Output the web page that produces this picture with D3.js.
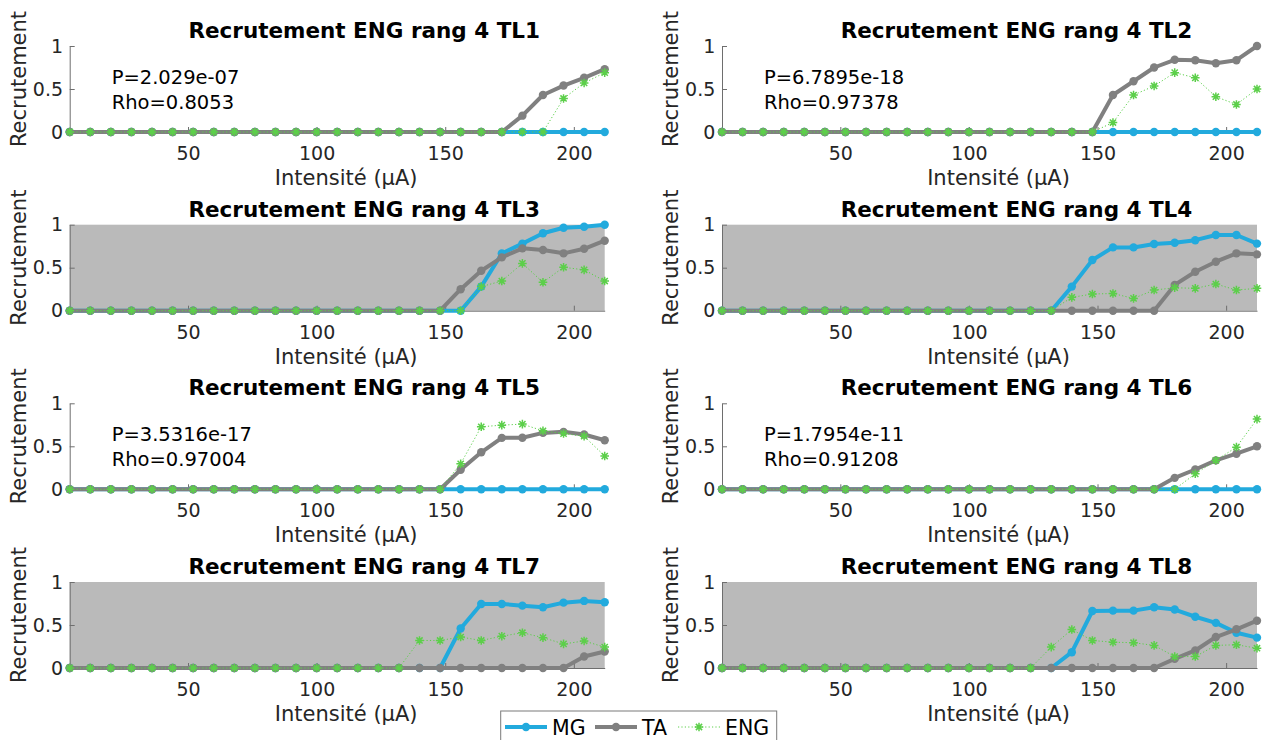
<!DOCTYPE html>
<html><head><meta charset="utf-8">
<script src="https://cdn.jsdelivr.net/npm/d3@7"></script>
<style>body{margin:0;background:#fff} svg{display:block}</style>
</head><body><svg id="c" width="1263" height="740"></svg>
<script>
// ---- data ----
const intensity = [4,12,20,28,36,44,52,60,68,76,84,92,100,108,116,124,132,140,148,156,164,172,180,188,196,204,212];
const xTicks = [50,100,150,200];
const yTicks = [0,0.5,1];
const titles = ["Recrutement ENG rang 4 TL1","Recrutement ENG rang 4 TL2","Recrutement ENG rang 4 TL3","Recrutement ENG rang 4 TL4",
                "Recrutement ENG rang 4 TL5","Recrutement ENG rang 4 TL6","Recrutement ENG rang 4 TL7","Recrutement ENG rang 4 TL8"];
const shaded = [false,false,true,true,false,false,true,true];
const pLabels = ["P=2.029e-07","P=6.7895e-18",null,null,"P=3.5316e-17","P=1.7954e-11",null,null];
const rhoLabels = ["Rho=0.8053","Rho=0.97378",null,null,"Rho=0.97004","Rho=0.91208",null,null];
const seriesNames = ["MG","TA","ENG"];

const MG_TL1 = [0,0,0,0,0,0,0,0,0,0,0,0,0,0,0,0,0,0,0,0,0,0,0,0,0,0,0];
const TA_TL1 = [0,0,0,0,0,0,0,0,0,0,0,0,0,0,0,0,0,0,0,0,0,0,0.19,0.43,0.54,0.63,0.73];
const ENG_TL1 = [0,0,0,0,0,0,0,0,0,0,0,0,0,0,0,0,0,0,0,0,0,0,0,0,0.39,0.57,0.69];

const MG_TL2 = [0,0,0,0,0,0,0,0,0,0,0,0,0,0,0,0,0,0,0,0,0,0,0,0,0,0,0];
const TA_TL2 = [0,0,0,0,0,0,0,0,0,0,0,0,0,0,0,0,0,0,0,0.43,0.59,0.75,0.84,0.835,0.80,0.835,1.0];
const ENG_TL2 = [0,0,0,0,0,0,0,0,0,0,0,0,0,0,0,0,0,0,0,0.11,0.43,0.535,0.69,0.63,0.41,0.32,0.50];

const MG_TL3 = [0,0,0,0,0,0,0,0,0,0,0,0,0,0,0,0,0,0,0,0,0.28,0.665,0.78,0.90,0.965,0.977,1.0];
const TA_TL3 = [0,0,0,0,0,0,0,0,0,0,0,0,0,0,0,0,0,0,0,0.25,0.465,0.62,0.725,0.705,0.667,0.72,0.814];
const ENG_TL3 = [0,0,0,0,0,0,0,0,0,0,0,0,0,0,0,0,0,0,0,0,0.28,0.345,0.55,0.33,0.505,0.475,0.345];

const MG_TL4 = [0,0,0,0,0,0,0,0,0,0,0,0,0,0,0,0,0,0.28,0.59,0.736,0.736,0.775,0.79,0.82,0.88,0.88,0.78];
const TA_TL4 = [0,0,0,0,0,0,0,0,0,0,0,0,0,0,0,0,0,0,0,0,0,0,0.30,0.453,0.57,0.667,0.655];
const ENG_TL4 = [0,0,0,0,0,0,0,0,0,0,0,0,0,0,0,0,0,0.155,0.194,0.20,0.143,0.24,0.267,0.26,0.31,0.24,0.26];

const MG_TL5 = [0,0,0,0,0,0,0,0,0,0,0,0,0,0,0,0,0,0,0,0,0,0,0,0,0,0,0];
const TA_TL5 = [0,0,0,0,0,0,0,0,0,0,0,0,0,0,0,0,0,0,0,0.227,0.43,0.598,0.60,0.656,0.668,0.637,0.57];
const ENG_TL5 = [0,0,0,0,0,0,0,0,0,0,0,0,0,0,0,0,0,0,0,0.297,0.727,0.746,0.758,0.68,0.648,0.617,0.387];

const MG_TL6 = [0,0,0,0,0,0,0,0,0,0,0,0,0,0,0,0,0,0,0,0,0,0,0,0,0,0,0];
const TA_TL6 = [0,0,0,0,0,0,0,0,0,0,0,0,0,0,0,0,0,0,0,0,0,0,0.133,0.23,0.336,0.414,0.50];
const ENG_TL6 = [0,0,0,0,0,0,0,0,0,0,0,0,0,0,0,0,0,0,0,0,0,0,0,0.18,0.336,0.49,0.816];

const MG_TL7 = [0,0,0,0,0,0,0,0,0,0,0,0,0,0,0,0,0,0,0,0.459,0.745,0.745,0.725,0.706,0.76,0.78,0.765];
const TA_TL7 = [0,0,0,0,0,0,0,0,0,0,0,0,0,0,0,0,0,0,0,0,0,0,0,0,0,0.133,0.192];
const ENG_TL7 = [0,0,0,0,0,0,0,0,0,0,0,0,0,0,0,0,0,0.32,0.32,0.36,0.32,0.37,0.41,0.353,0.28,0.314,0.243];

const MG_TL8 = [0,0,0,0,0,0,0,0,0,0,0,0,0,0,0,0,0,0.184,0.663,0.667,0.667,0.706,0.68,0.596,0.525,0.41,0.353];
const TA_TL8 = [0,0,0,0,0,0,0,0,0,0,0,0,0,0,0,0,0,0,0,0,0,0,0.106,0.204,0.36,0.45,0.55];
const ENG_TL8 = [0,0,0,0,0,0,0,0,0,0,0,0,0,0,0,0,0.243,0.447,0.32,0.30,0.294,0.263,0.133,0.133,0.263,0.27,0.23];

const MG = [MG_TL1,MG_TL2,MG_TL3,MG_TL4,MG_TL5,MG_TL6,MG_TL7,MG_TL8];
const TA = [TA_TL1,TA_TL2,TA_TL3,TA_TL4,TA_TL5,TA_TL6,TA_TL7,TA_TL8];
const ENG = [ENG_TL1,ENG_TL2,ENG_TL3,ENG_TL4,ENG_TL5,ENG_TL6,ENG_TL7,ENG_TL8];

// ---- style / layout ----
const FONT = "DejaVu Sans";
const C_MG = "#22aadd", C_TA = "#808080", C_ENG = "#5ccf4a";
const colLeft = [69.7, 722], plotW = 535;
const rowTop = [46, 224.7, 403.3, 582], plotH = 86;
const svg = d3.select("#c");

function asterisk(s){
  const d = s*0.72;
  return `M${-s},0L${s},0M0,${-s}L0,${s}M${-d},${-d}L${d},${d}M${-d},${d}L${d},${-d}`;
}

titles.forEach((title,k)=>{
  const col = k%2, row = Math.floor(k/2);
  const x0 = colLeft[col], y0 = rowTop[row];
  const x = d3.scaleLinear().domain([4,212]).range([x0, x0+plotW]);
  const y = d3.scaleLinear().domain([0,1]).range([y0+plotH, y0]);
  const g = svg.append("g");

  if (shaded[k]) g.append("rect").attr("x",x(4)).attr("y",y(1)).attr("width",x(212)-x(4)).attr("height",y(0)-y(1)).attr("fill","#bababa");

  const xa = g.append("g").attr("transform",`translate(0,${y(0)})`)
    .call(d3.axisBottom(x).tickValues(xTicks).tickSizeInner(-5).tickSizeOuter(0).tickPadding(14.5).tickFormat(d=>String(d)));
  const ya = g.append("g").attr("transform",`translate(${x(4)},0)`)
    .call(d3.axisLeft(y).tickValues(yTicks).tickSizeInner(-5).tickSizeOuter(0).tickPadding(6.7).tickFormat(d=>String(d)));
  [xa,ya].forEach(a=>{
    a.selectAll("path.domain").attr("stroke","#6e6e6e").attr("stroke-width",1);
    a.selectAll(".tick line").attr("stroke","#6e6e6e");
    a.selectAll("text").attr("font-family",FONT).attr("font-size",19).attr("fill","#262626");
  });

  // series
  const line = d3.line().x((d,i)=>x(intensity[i])).y(d=>y(d));
  [[MG[k],C_MG],[TA[k],C_TA]].forEach(([vals,c])=>{
    g.append("path").attr("d",line(vals)).attr("fill","none").attr("stroke",c).attr("stroke-width",4).attr("stroke-linejoin","round");
    g.selectAll(null).data(vals).enter().append("circle")
      .attr("cx",(d,i)=>x(intensity[i])).attr("cy",d=>y(d)).attr("r",4.2).attr("fill",c);
  });
  g.append("path").attr("d",line(ENG[k])).attr("fill","none").attr("stroke",C_ENG).attr("stroke-width",1).attr("stroke-dasharray","1.2,2.2");
  g.selectAll(null).data(ENG[k]).enter().append("path")
    .attr("transform",(d,i)=>`translate(${x(intensity[i])},${y(d)})`)
    .attr("d",asterisk(4.3)).attr("fill","none").attr("stroke",C_ENG).attr("stroke-width",1.5);

  // texts
  g.append("text").attr("x",x0+294.5).attr("y",y0-8).attr("text-anchor","middle")
    .attr("font-family",FONT).attr("font-weight","bold").attr("font-size",21.5).attr("fill","#000").text(title);
  g.append("text").attr("x",x0+276.5).attr("y",y(0)+53).attr("text-anchor","middle")
    .attr("font-family",FONT).attr("font-size",21).attr("fill","#262626").text("Intensité (µA)");
  g.append("text").attr("transform",`translate(${x0-44},${y0+plotH/2-10}) rotate(-90)`).attr("text-anchor","middle")
    .attr("font-family",FONT).attr("font-size",21).attr("fill","#262626").text("Recrutement");
  if (pLabels[k]) {
    g.append("text").attr("x",x(20.3)).attr("y",y(0.558)).attr("font-family",FONT).attr("font-size",19.5).attr("fill","#000").text(pLabels[k]);
    g.append("text").attr("x",x(20.3)).attr("y",y(0.267)).attr("font-family",FONT).attr("font-size",19.5).attr("fill","#000").text(rhoLabels[k]);
  }
});

// legend
const lg = svg.append("g");
lg.append("rect").attr("x",500.7).attr("y",711).attr("width",276).attr("height",40).attr("fill","#fff").attr("stroke","#7a7a7a").attr("stroke-width",1);
const legendX = [505, 595, 678];
const legendColors = [C_MG, C_TA, C_ENG];
seriesNames.forEach((n,i)=>{
  const lx = legendX[i], ly = 727;
  if (i<2) {
    lg.append("line").attr("x1",lx).attr("x2",lx+42).attr("y1",ly).attr("y2",ly).attr("stroke",legendColors[i]).attr("stroke-width",4);
    lg.append("circle").attr("cx",lx+21).attr("cy",ly).attr("r",4.2).attr("fill",legendColors[i]);
  } else {
    lg.append("line").attr("x1",lx).attr("x2",lx+42).attr("y1",ly).attr("y2",ly).attr("stroke",C_ENG).attr("stroke-width",1).attr("stroke-dasharray","1.2,2.2");
    lg.append("path").attr("transform",`translate(${lx+21},${ly})`).attr("d",asterisk(4.3)).attr("fill","none").attr("stroke",C_ENG).attr("stroke-width",1.5);
  }
  lg.append("text").attr("x",lx+47).attr("y",735).attr("font-family",FONT).attr("font-size",20.5).attr("fill","#000").text(n);
});
</script>
</body></html>
